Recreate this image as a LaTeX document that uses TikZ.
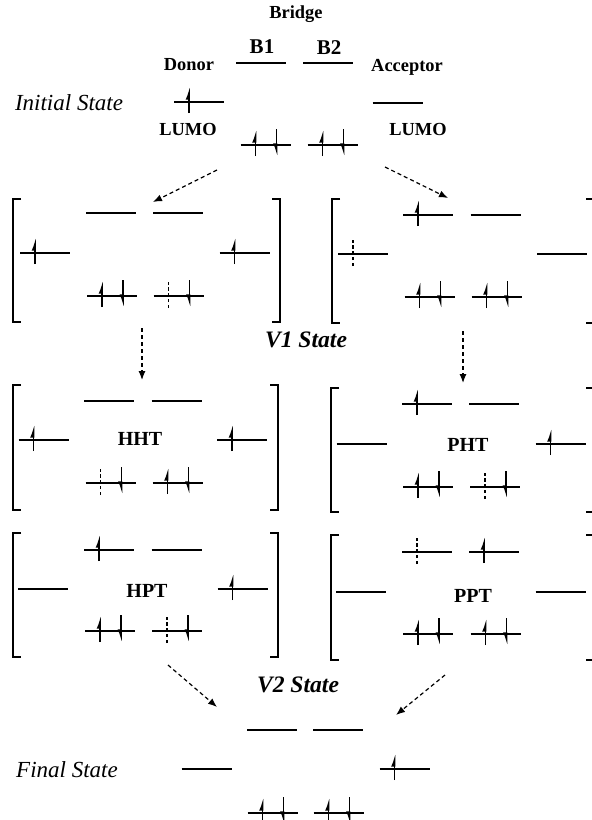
\documentclass[tikz,border=0pt]{standalone}
\usepackage{fontspec}
\setmainfont{Liberation Serif}
\usetikzlibrary{arrows.meta}
\tikzset{
  lvl/.style     = {line width=0.95pt},
  eup/.style     = {line width=0.8pt, -{Latex[left,length=5pt,width=3.4pt]}},
  edn/.style     = {line width=0.8pt, -{Latex[right,length=5pt,width=3.4pt]}},
  egh/.style     = {line width=0.7pt, dash pattern=on 1.6pt off 1.3pt},
  brk/.style     = {line width=0.95pt},
  hop/.style     = {-{Latex[length=4.5pt,width=3.5pt]}, dash pattern=on 2pt off 1.5pt, line width=0.6pt},
  lbl/.style     = {font=\fontsize{9.2}{11}\selectfont\bfseries, inner sep=0pt},
  bname/.style   = {font=\fontsize{10.5}{12}\selectfont\bfseries, inner sep=0pt},
  cfg/.style     = {font=\fontsize{10}{12}\selectfont\bfseries, inner sep=0pt},
  stname/.style  = {font=\fontsize{11.5}{13}\selectfont\itshape, inner sep=0pt},
  vname/.style   = {font=\fontsize{11.8}{13}\selectfont\bfseries\itshape, inner sep=0pt},
  pics/lvl0/.style = {code={\draw[lvl] (-25,0) -- (25,0);}},
  pics/lvl1/.style = {code={\draw[lvl] (-25,0) -- (25,0); \draw[eup] (-10,11) -- (-10,-16);}},
  pics/lvl2/.style = {code={\draw[lvl] (-25,0) -- (25,0); \draw[eup] (-10,11) -- (-10,-16);
                            \draw[edn] (11,-16) -- (11,12);}},
  pics/lvlg/.style = {code={\draw[lvl] (-25,0) -- (25,0); \draw[egh] (-10,12) -- (-10,-15);}},
  pics/lvlh/.style = {code={\draw[lvl] (-25,0) -- (25,0); \draw[egh] (-10,12) -- (-10,-15);
                            \draw[edn] (11,-16) -- (11,12);}},
}

\begin{document}
\begin{tikzpicture}[x=0.5pt,y=-0.5pt]
  \useasboundingbox (0,0) rectangle (592,820);
  \clip (0,0) rectangle (592,820);

  % ----- initial state -----
  \node[lbl] (bridge) at (296,14) {Bridge};
  \node[bname] (b1) at (262,47) {B1};
  \node[bname] (b2) at (329,48) {B2};
  \node[lbl] (donor) at (189,65) {Donor};
  \node[lbl] (acceptor) at (407,67) {Acceptor};
  \node[stname] (initial) at (69,103) {Initial State};
  \node[lbl] (lumoD) at (188,129) {LUMO};
  \node[lbl] (lumoA) at (418,129) {LUMO};
  \foreach \x/\y/\k in {261/63/0, 328/63/0, 199/102/1, 397.5/103/0, 265.5/145/2, 332.5/145/2} {
    \pic at (\x,\y) {lvl\k};
  }

  % ----- V1: hole and particle transfer -----
  \foreach \x/\y/\k in {%
    111/213/0, 178/213/0, 45/253/1, 244.5/253/1, 112/296/2, 178.5/296/h,
    428/215/1, 495.5/215/0, 363/254/g, 562/254/0, 429.5/297/2, 496.5/297/2}
  {
    \pic at (\x,\y) {lvl\k};
  }
  \node[vname] (v1) at (306,340) {V1 State};

  % ----- HHT / PHT -----
  \foreach \x/\y/\k in {%
    109/401/0, 176.5/401/0, 43.5/440/1, 242/440/1, 110.5/483/h, 177.5/483/2,
    427/404/1, 494/404/0, 361.5/444/0, 560.5/444/1, 428/487/2, 495/487/h}
  {
    \pic at (\x,\y) {lvl\k};
  }
  \node[cfg] (hht) at (140,439) {HHT};
  \node[cfg] (pht) at (468,445) {PHT};

  % ----- HPT / PPT -----
  \foreach \x/\y/\k in {%
    109/550/1, 176.5/550/0, 43/589/0, 242.5/589/1, 110/631/2, 177/631/h,
    427/552/g, 494/552/1, 361/592/0, 560.5/592/0, 428/634/2, 495.5/634/2}
  {
    \pic at (\x,\y) {lvl\k};
  }
  \node[cfg] (hpt) at (147,591) {HPT};
  \node[cfg] (ppt) at (473,596) {PPT};
  \node[vname] (v2) at (298,685) {V2 State};

  % ----- brackets -----
  \foreach \xl/\xr/\yt/\yb in {13/280/199/322, 13/278/385/510, 13/278/533/657,
                               332/594/199/323, 331/594/388/512, 331/594/535/660} {
    \draw[brk] (\xl+8,\yt) -- (\xl,\yt) -- (\xl,\yb) -- (\xl+8,\yb);
    \draw[brk] (\xr-8,\yt) -- (\xr,\yt) -- (\xr,\yb) -- (\xr-8,\yb);
  }

  % ----- final state -----
  \node[stname] (final) at (67,770) {Final State};
  \foreach \x/\y/\k in {272/730/0, 338/730/0, 206.5/769/0, 404.5/769/1, 272.5/813/2, 338.5/813/2} {
    \pic at (\x,\y) {lvl\k};
  }

  % ----- transitions -----
  \coordinate (iniL) at (217,170);
  \coordinate (vHT) at (153,202);
  \coordinate (iniR) at (385,167);
  \coordinate (vPT) at (448,198);
  \coordinate (vHTb) at (142,328);
  \coordinate (hht0) at (142,380);
  \coordinate (vPTb) at (463,331);
  \coordinate (pht0) at (463,383);
  \coordinate (hptb) at (168,665);
  \coordinate (finL) at (217,707);
  \coordinate (pptb) at (445,675);
  \coordinate (finR) at (396,715);
  \draw[hop] (iniL) -- (vHT);
  \draw[hop] (iniR) -- (vPT);
  \draw[hop] (vHTb) -- (hht0);
  \draw[hop] (vPTb) -- (pht0);
  \draw[hop] (hptb) -- (finL);
  \draw[hop] (pptb) -- (finR);
\end{tikzpicture}
\end{document}
